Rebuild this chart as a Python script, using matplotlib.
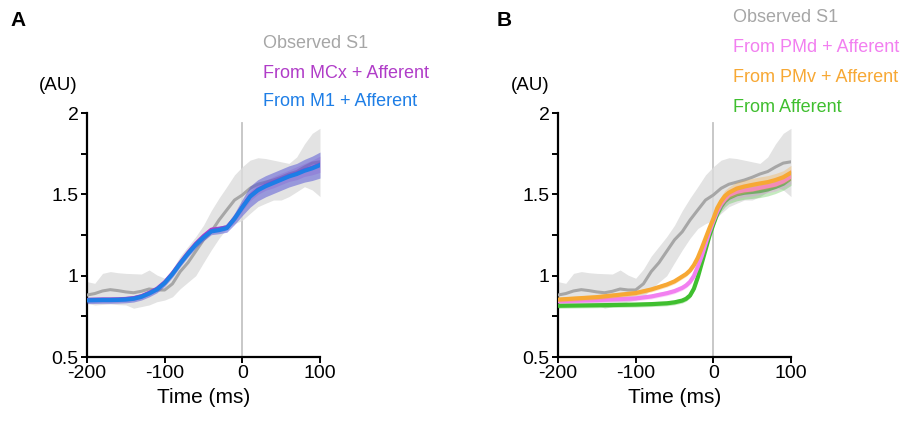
import numpy as np
import matplotlib
matplotlib.use("Agg")
import matplotlib.pyplot as plt
from matplotlib.ticker import MultipleLocator

plt.rcParams['font.family'] = ['Liberation Sans', 'DejaVu Sans']
plt.rcParams['axes.unicode_minus'] = False

# ======= ДАННЫЕ =======
# время, мс (шаг 10)
t_obs = [-200, -190, -180, -170, -160, -150, -140, -130, -120, -110, -100,
         -90, -80, -70, -60, -50, -40, -30, -20, -10, 0,
         10, 20, 30, 40, 50, 60, 70, 80, 90, 100]

# Observed S1 (серый)
obs_mean = [0.881, 0.890, 0.906, 0.914, 0.908, 0.900, 0.895, 0.904, 0.918, 0.912, 0.912,
            0.950, 1.025, 1.080, 1.150, 1.220, 1.270, 1.342, 1.404, 1.465, 1.496,
            1.537, 1.562, 1.575, 1.588, 1.605, 1.625, 1.640, 1.668, 1.692, 1.700]
obs_hi = [0.963, 0.953, 1.014, 1.025, 1.018, 1.014, 1.012, 1.010, 1.035, 1.004, 0.984,
          1.040, 1.120, 1.180, 1.240, 1.310, 1.400, 1.477, 1.547, 1.620, 1.670,
          1.710, 1.725, 1.720, 1.710, 1.700, 1.690, 1.730, 1.810, 1.875, 1.906]
obs_lo = [0.830, 0.820, 0.823, 0.826, 0.822, 0.820, 0.800, 0.810, 0.820, 0.840, 0.850,
          0.870, 0.920, 0.960, 1.000, 1.080, 1.158, 1.230, 1.290, 1.320, 1.340,
          1.383, 1.424, 1.445, 1.465, 1.465, 1.486, 1.516, 1.547, 1.527, 1.486]

# Панель A: From M1 + Afferent (синий) и From MCx + Afferent (фиолетовый)
m1_mean = [0.848, 0.849, 0.850, 0.850, 0.851, 0.853, 0.858, 0.870, 0.890, 0.915, 0.955,
           1.010, 1.075, 1.135, 1.190, 1.235, 1.272, 1.280, 1.292, 1.350, 1.420,
           1.486, 1.525, 1.550, 1.570, 1.590, 1.610, 1.625, 1.645, 1.660, 1.680]
m1_sem = [0.02, 0.02, 0.02, 0.02, 0.02, 0.02, 0.02, 0.02, 0.02, 0.02, 0.02,
          0.02, 0.02, 0.02, 0.02, 0.02, 0.02, 0.022, 0.025, 0.035, 0.05,
          0.065, 0.065, 0.065, 0.065, 0.065, 0.065, 0.065, 0.07, 0.075, 0.08]
mcx_mean = [0.852, 0.853, 0.854, 0.854, 0.855, 0.858, 0.863, 0.875, 0.896, 0.921, 0.961,
            1.016, 1.081, 1.142, 1.198, 1.245, 1.284, 1.290, 1.298, 1.353, 1.424,
            1.490, 1.530, 1.555, 1.575, 1.595, 1.614, 1.630, 1.650, 1.665, 1.685]
mcx_sem = [0.015, 0.015, 0.015, 0.015, 0.015, 0.015, 0.015, 0.015, 0.015, 0.015, 0.015,
           0.015, 0.015, 0.015, 0.015, 0.015, 0.015, 0.015, 0.015, 0.02, 0.025,
           0.03, 0.03, 0.03, 0.035, 0.035, 0.035, 0.04, 0.04, 0.045, 0.05]

# Панель B: модели (неравномерный шаг во времени)
t_mod = [-200, -150, -100, -80, -60, -50, -40, -35, -30, -25, -20, -15, -10, -5, 0,
         5, 10, 15, 20, 30, 40, 50, 60, 70, 80, 90, 100]
aff_mean = [0.815, 0.818, 0.822, 0.825, 0.830, 0.836, 0.847, 0.858, 0.878, 0.920, 0.990,
            1.075, 1.160, 1.245, 1.315, 1.380, 1.425, 1.458, 1.478, 1.500, 1.510,
            1.515, 1.520, 1.530, 1.545, 1.565, 1.600]
pmd_mean = [0.843, 0.850, 0.860, 0.872, 0.892, 0.905, 0.925, 0.940, 0.962, 0.998, 1.055,
            1.120, 1.195, 1.270, 1.335, 1.395, 1.440, 1.470, 1.495, 1.515, 1.525,
            1.530, 1.540, 1.550, 1.560, 1.580, 1.610]
pmv_mean = [0.853, 0.868, 0.893, 0.915, 0.945, 0.965, 0.995, 1.010, 1.032, 1.065, 1.110,
            1.168, 1.230, 1.292, 1.350, 1.415, 1.458, 1.490, 1.510, 1.535, 1.548,
            1.558, 1.567, 1.575, 1.588, 1.605, 1.633]
mod_sem = [0.015, 0.015, 0.015, 0.015, 0.015, 0.015, 0.015, 0.015, 0.015, 0.015, 0.015,
           0.015, 0.015, 0.02, 0.02, 0.025, 0.03, 0.035, 0.035, 0.04, 0.04,
           0.04, 0.04, 0.04, 0.04, 0.04, 0.045]

# ======= ЦВЕТА =======
C_OBS, C_OBS_BAND = '#a6a6a6', '#dcdcdc'
C_M1, C_M1_BAND = '#1e7ee6', '#5b5bd6'
C_MCX = '#b03cc8'
C_PMD = '#f27ff0'
C_PMV = '#f7a834'
C_AFF = '#3fbf2f'

W, H = 914, 428
fig = plt.figure(figsize=(W / 100, H / 100), dpi=100)


def px(x, y):
    return x / W, 1 - y / H


def setup_axes(ax):
    ax.set_xlim(-200, 100)
    ax.set_ylim(0.5, 2)
    ax.set_xticks([-200, -100, 0, 100])
    ax.set_yticks([0.5, 1, 1.5, 2])
    ax.set_yticklabels(['0.5', '1', '1.5', '2'])
    ax.yaxis.set_minor_locator(MultipleLocator(0.25))
    for s in ['top', 'right']:
        ax.spines[s].set_visible(False)
    for s in ['left', 'bottom']:
        ax.spines[s].set_linewidth(1.6)
    ax.tick_params(which='both', direction='out', length=4, width=1.4, labelsize=14, pad=2)
    ax.tick_params(which='minor', length=4)
    ax.xaxis.set_minor_locator(plt.NullLocator())
    ax.set_xlabel('Time (ms)', fontsize=15, labelpad=4)
    ax.axvline(0, ymin=0, ymax=0.96, color='#c4c4c4', lw=1.3, zorder=1)
    ax.patch.set_alpha(0)


def observed(ax):
    ax.fill_between(t_obs, obs_lo, obs_hi, color=C_OBS_BAND, alpha=0.8, lw=0, zorder=2)
    ax.plot(t_obs, obs_mean, color=C_OBS, lw=2.2, zorder=3)


# ======= ПАНЕЛЬ A =======
axA = fig.add_axes([87 / W, 1 - 357 / H, 233 / W, 244 / H])
setup_axes(axA)
observed(axA)
mcx = np.array(mcx_mean)
axA.fill_between(t_obs, mcx - mcx_sem, mcx + mcx_sem, color=C_MCX, alpha=0.25, lw=0, zorder=4)
axA.plot(t_obs, mcx, color=C_MCX, lw=2.6, zorder=5)
m1 = np.array(m1_mean)
axA.fill_between(t_obs, m1 - m1_sem, m1 + m1_sem, color=C_M1_BAND, alpha=0.55, lw=0, zorder=6)
axA.plot(t_obs, m1, color=C_M1, lw=3.0, zorder=7)

# ======= ПАНЕЛЬ B =======
axB = fig.add_axes([558 / W, 1 - 357 / H, 233 / W, 244 / H])
setup_axes(axB)
observed(axB)
sem = np.array(mod_sem)
for vals, col, z in [(aff_mean, C_AFF, 4), (pmd_mean, C_PMD, 6), (pmv_mean, C_PMV, 8)]:
    v = np.array(vals)
    axB.fill_between(t_mod, v - sem, v + sem, color=col, alpha=0.3, lw=0, zorder=z)
    axB.plot(t_mod, v, color=col, lw=3.0, zorder=z + 1)

# ======= ПОДПИСИ =======
fig.text(*px(10, 21), 'A', fontsize=15, fontweight='bold', va='center', ha='left')
fig.text(*px(497, 21), 'B', fontsize=15, fontweight='bold', va='center', ha='left')
fig.text(*px(58, 86), '(AU)', fontsize=13.5, va='center', ha='center')
fig.text(*px(530, 86), '(AU)', fontsize=13.5, va='center', ha='center')

legA = [('Observed S1', C_OBS, 44), ('From MCx + Afferent', C_MCX, 73),
        ('From M1 + Afferent', C_M1, 102)]
for txt, col, y in legA:
    fig.text(*px(263, y), txt, fontsize=13, color=col, va='center', ha='left')

legB = [('Observed S1', C_OBS, 18), ('From PMd + Afferent', C_PMD, 48),
        ('From PMv + Afferent', C_PMV, 77), ('From Afferent', C_AFF, 107)]
for txt, col, y in legB:
    fig.text(*px(733, y), txt, fontsize=13, color=col, va='center', ha='left')

fig.savefig('out.png', dpi=100)
plt.close(fig)
